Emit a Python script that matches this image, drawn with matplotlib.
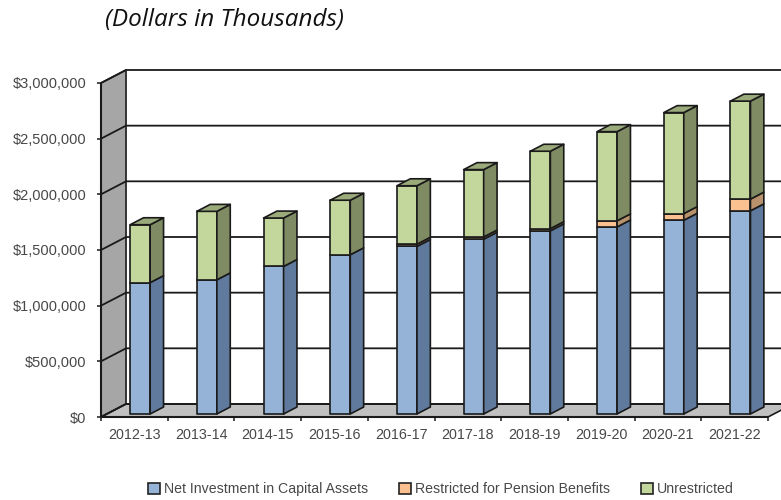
import matplotlib
matplotlib.use('Agg')
import matplotlib.pyplot as plt
from matplotlib.patches import Patch, Polygon

years = ['2012-13', '2013-14', '2014-15', '2015-16', '2016-17',
         '2017-18', '2018-19', '2019-20', '2020-21', '2021-22']
net_investment = [1180000, 1205000, 1325000, 1430000, 1505000,
                  1570000, 1645000, 1680000, 1740000, 1825000]
pension = [0, 0, 0, 0, 20000, 20000, 20000, 55000, 60000, 105000]
unrestricted = [520000, 615000, 435000, 490000, 525000,
                605000, 695000, 801000, 907000, 880000]
y_ticks = [0, 500000, 1000000, 1500000, 2000000, 2500000, 3000000]
y_labels = ['$0', '$500,000', '$1,000,000', '$1,500,000',
            '$2,000,000', '$2,500,000', '$3,000,000']

W, H = 781, 500
TEXT = '#484848'

# fake 3d depth of the chart box, in data units
DX = 0.375
DY = 116800
BAR_W = 0.30
BAR_DEPTH = 0.535
GAP = (1 - BAR_DEPTH) / 2

fig = plt.figure(figsize=(W / 100, H / 100), dpi=100)
ax = fig.add_axes([101 / W, 1 - 417 / H, 667 / W, 334 / H])
ax.set_xlim(0, 10)
ax.set_ylim(0, 3000000)
ax.patch.set_visible(False)
for s in ax.spines.values():
    s.set_visible(False)


def add_poly(pts, color, z, lw=1.2):
    ax.add_patch(Polygon(pts, closed=True, facecolor=color, edgecolor='#1a1a1a',
                         linewidth=lw, zorder=z, clip_on=False, joinstyle='round'))


def add_line(xs, ys, z=2, lw=1.3):
    ax.plot(xs, ys, color='#1a1a1a', linewidth=lw, zorder=z, clip_on=False,
            solid_capstyle='butt')


# left wall and floor
add_poly([(0, 0), (DX, DY), (DX, 3000000 + DY), (0, 3000000)], '#A6A6A6', 1)
add_poly([(0, 0), (10, 0), (10 + DX, DY), (DX, DY)], '#C0C0C0', 1)

# gridlines run along the wall and then across the back
for v in y_ticks:
    add_line([0, DX, 10 + DX], [v, v + DY, v + DY])
add_line([0, 10], [0, 0], z=2, lw=1.5)
add_line([0, 0], [0, 3000000], z=2, lw=1.5)


def draw_segment(x, y0, y1, front, side, top=None):
    dx = DX * BAR_DEPTH
    dy = DY * BAR_DEPTH
    add_poly([(x, y0), (x + BAR_W, y0), (x + BAR_W, y1), (x, y1)], front, 3)
    add_poly([(x + BAR_W, y0), (x + BAR_W + dx, y0 + dy),
              (x + BAR_W + dx, y1 + dy), (x + BAR_W, y1)], side, 3)
    if top:
        add_poly([(x, y1), (x + BAR_W, y1), (x + BAR_W + dx, y1 + dy),
                  (x + dx, y1 + dy)], top, 3)


for i in range(len(years)):
    # bar sits in the middle of the floor depth
    x = i + 0.5 - BAR_W / 2 + DX * GAP
    base = DY * GAP
    a = net_investment[i]
    b = a + pension[i]
    c = b + unrestricted[i]
    draw_segment(x, base, base + a, '#95B3D7', '#5F7A9C')
    if pension[i] > 0:
        draw_segment(x, base + a, base + b, '#FAC08F', '#B8926C')
    draw_segment(x, base + b, base + c, '#C3D69B', '#7F8C63', '#9BAA7B')

ax.set_yticks(y_ticks)
ax.set_yticklabels(y_labels)
ax.tick_params(axis='y', length=3.2, width=1.1, color='#1a1a1a', pad=7.5,
               labelsize=10.5, labelcolor=TEXT)
ax.set_xticks(range(0, 11))
ax.set_xticklabels([''] * 11)
ax.set_xticks([i + 0.5 for i in range(len(years))], minor=True)
ax.set_xticklabels(years, minor=True)
ax.tick_params(axis='x', which='major', length=3.2, width=1.1, color='#1a1a1a')
ax.tick_params(axis='x', which='minor', length=0, pad=8, labelsize=10.3, labelcolor=TEXT)
for t in ax.get_xticklabels(minor=True) + ax.get_yticklabels():
    t.set_family('Liberation Sans')

fig.text(105 / W, 1 - 26 / H, '(Dollars in Thousands)', family='Open Sans',
         style='italic', fontsize=17.5, color='#111111', ha='left', va='baseline')

handles = [Patch(facecolor='#95B3D7', edgecolor='#222222', linewidth=1.2),
           Patch(facecolor='#FAC08F', edgecolor='#222222', linewidth=1.2),
           Patch(facecolor='#C3D69B', edgecolor='#222222', linewidth=1.2)]
fig.legend(handles,
           ['Net Investment in Capital Assets', 'Restricted for Pension Benefits',
            'Unrestricted'],
           loc='center left', bbox_to_anchor=(148 / W, 1 - 489 / H), ncol=3,
           frameon=False, borderpad=0, borderaxespad=0, handlelength=0.82,
           handleheight=0.82, handletextpad=0.3, columnspacing=2.2,
           prop={'family': 'Liberation Sans', 'size': 10.2}, labelcolor=TEXT)

fig.savefig('out.png', dpi=100)
